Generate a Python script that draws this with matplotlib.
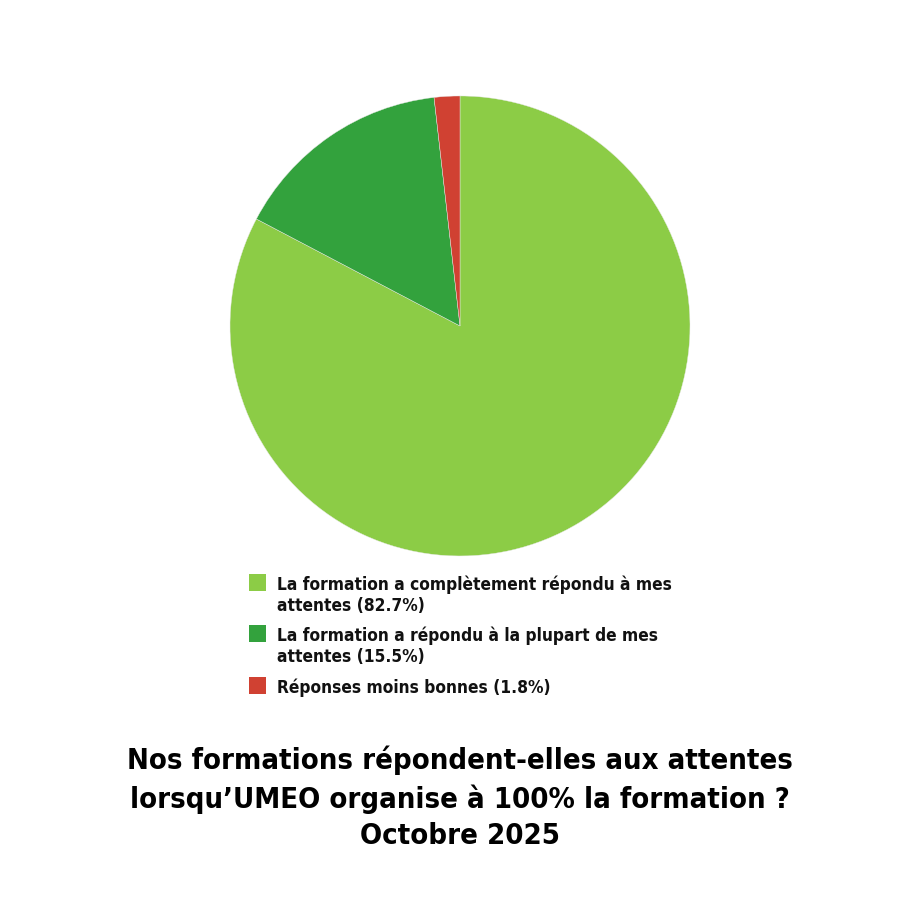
import matplotlib
matplotlib.use("Agg")
import matplotlib.pyplot as plt
from matplotlib.patches import Rectangle

# data
labels = ["La formation a complètement répondu à mes\nattentes (82.7%)",
          "La formation a répondu à la plupart de mes\nattentes (15.5%)",
          "Réponses moins bonnes (1.8%)"]
values = [82.7, 15.5, 1.8]
colors = ["#8ccc46", "#33a23d", "#d04132"]
title = "Nos formations répondent-elles aux attentes\nlorsqu’UMEO organise à 100% la formation ?\nOctobre 2025"

plt.rcParams['font.family'] = ['DejaVu Sans']

fig = plt.figure(figsize=(9.2, 9.2), dpi=100)
fig.patch.set_facecolor("white")

# pie
ax = fig.add_axes([0.25, 0.6446 - 0.25, 0.5, 0.5])
ax.pie(values, colors=colors, startangle=90, counterclock=False,
       radius=1, wedgeprops=dict(linewidth=0.3, edgecolor="#e8e8e8"))
ax.set_xlim(-1, 1)
ax.set_ylim(-1, 1)
ax.set_aspect("equal")
ax.axis("off")

# legend drawn by hand so the square sits next to the first line
W, H = 920, 920
ys = [575, 626, 678]
for lab, col, y in zip(labels, colors, ys):
    fig.patches.append(Rectangle((249 / W, 1 - (y + 17) / H), 17 / W, 17 / H,
                                 transform=fig.transFigure, facecolor=col,
                                 edgecolor="none"))
    fig.text(277 / W, 1 - (y + 0.5) / H, lab, ha="left", va="top",
             fontsize=12.4, fontweight="bold", fontstretch="condensed",
             linespacing=1.2, color="#111111")

# title
fig.text(0.5, 1 - 746 / H, title, ha="center", va="top", fontsize=21,
         fontweight="bold", fontstretch="condensed", linespacing=1.38,
         color="#000000")

fig.savefig("out.png", dpi=100, facecolor="white")
